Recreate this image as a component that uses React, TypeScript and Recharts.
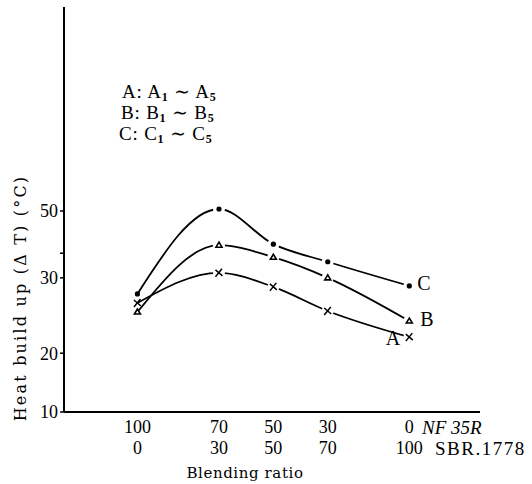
import React from 'react';
import { LineChart, Line, XAxis, YAxis, Customized } from 'recharts';

// blending ratio NF35R / SBR.1778
const nfRatio = [100, 70, 50, 30, 0];
const sbrRatio = [0, 30, 50, 70, 100];

// heat build up, in axis units (the printed scale is uneven)
const seriesA = [31.7, 37.7, 34.9, 30.1, 24.9];
const seriesB = [29.9, 43.2, 40.8, 36.7, 28.1];
const seriesC = [33.5, 50.4, 43.4, 39.9, 35.1];

const yTickValues = [10, 21.7, 36.7, 41.6, 50];
const yTickLabels = ['10', '20', '30', '', '50'];

const data = nfRatio.map((nf, i) => ({
  nf,
  sbr: sbrRatio[i],
  A: seriesA[i],
  B: seriesB[i],
  C: seriesC[i],
}));

const SERIF = '"Liberation Serif", "DejaVu Serif", serif';
const WIDE = '"DejaVu Serif", serif';

const XTick = (props: any) => {
  const { x, y, payload } = props;
  const i = nfRatio.indexOf(payload.value);
  return (
    <g>
      <text x={x} y={y + 13} textAnchor="middle" fontFamily={SERIF} fontSize={18} fill="#000">
        {nfRatio[i]}
      </text>
      <text x={x} y={y + 34} textAnchor="middle" fontFamily={SERIF} fontSize={18} fill="#000">
        {sbrRatio[i]}
      </text>
    </g>
  );
};

const makeDot = (kind: 'x' | 'tri' | 'dot', name: string, dx: number, dy: number, anchor: string) => (props: any) => {
  const { cx, cy, index } = props;
  const last = index === nfRatio.length - 1;
  let mark;
  if (kind === 'dot') {
    mark = <circle cx={cx} cy={cy} r={2.6} fill="#000" />;
  } else if (kind === 'tri') {
    mark = (
      <polygon
        points={`${cx},${cy - 3} ${cx - 3},${cy + 2} ${cx + 3},${cy + 2}`}
        fill="#fff"
        stroke="#000"
        strokeWidth={1.6}
      />
    );
  } else {
    mark = (
      <path
        d={`M${cx - 3.5},${cy + 4} L${cx + 3},${cy - 4} M${cx - 3.5},${cy - 3} L${cx + 3.5},${cy + 3}`}
        stroke="#000"
        strokeWidth={1.5}
        fill="none"
      />
    );
  }
  return (
    <g key={`${name}-${index}`}>
      {index > 0 && <circle cx={cx} cy={cy} r={6} fill="#fff" />}
      {mark}
      {last && (
        <text x={cx + dx} y={cy + dy} textAnchor={anchor} fontFamily={SERIF} fontSize={20} fill="#000">
          {name}
        </text>
      )}
    </g>
  );
};

const LegendLine = ({ x, y, k }: { x: number; y: number; k: string }) => (
  <text x={x} y={y} fontFamily={SERIF} fontSize={19} letterSpacing={0.8}>
    {k}: {k}
    <tspan fontSize={12} dy={3} fontWeight="bold">1</tspan>
    <tspan dy={-3}> ∼ {k}</tspan>
    <tspan fontSize={12} dy={3} fontWeight="bold">5</tspan>
  </text>
);

const Annotations = () => (
  <g fill="#000">
    <LegendLine x={122} y={98} k="A" />
    <LegendLine x={121} y={119} k="B" />
    <LegendLine x={119} y={140} k="C" />
    <text x={422} y={434} fontFamily={SERIF} fontSize={19} fontStyle="italic">
      NF 35R
    </text>
    <text x={435} y={455} fontFamily={SERIF} fontSize={19} letterSpacing={1.5}>
      SBR.1778
    </text>
    <text x={245} y={478} textAnchor="middle" fontFamily={WIDE} fontSize={15} letterSpacing={0.6}>
      Blending ratio
    </text>
    <text
      x={20}
      y={298}
      textAnchor="middle"
      dominantBaseline="central"
      transform="rotate(-90, 20, 298)"
      fontFamily={WIDE}
      fontSize={16}
      letterSpacing={2.2}
    >
      Heat build up (Δ T) (°C)
    </text>
  </g>
);

export default function App() {
  return (
    <div style={{ position: 'absolute', left: 0, top: 0, background: '#fff' }}>
      <LineChart width={532} height={484} data={data} margin={{ top: 7, right: 52, bottom: 12, left: 0 }}>
        <XAxis
          dataKey="nf"
          type="number"
          domain={[-26, 127]}
          reversed
          ticks={nfRatio}
          interval={0}
          tick={<XTick />}
          tickLine={false}
          axisLine={{ stroke: '#000', strokeWidth: 2 }}
          height={60}
        />
        <YAxis
          type="number"
          domain={[10, 90.6]}
          ticks={yTickValues}
          interval={0}
          width={64}
          tickSize={4}
          tickMargin={2}
          tickFormatter={(v: number) => yTickLabels[yTickValues.indexOf(v)]}
          tick={{ fill: '#000', fontFamily: SERIF, fontSize: 18 }}
          tickLine={{ stroke: '#000', strokeWidth: 1.5 }}
          axisLine={{ stroke: '#000', strokeWidth: 2 }}
        />
        <Line
          dataKey="A"
          type="monotone"
          stroke="#000"
          strokeWidth={1.8}
          dot={makeDot('x', 'A', -9, 8, 'end')}
          isAnimationActive={false}
        />
        <Line
          dataKey="B"
          type="monotone"
          stroke="#000"
          strokeWidth={1.8}
          dot={makeDot('tri', 'B', 11, 5, 'start')}
          isAnimationActive={false}
        />
        <Line
          dataKey="C"
          type="monotone"
          stroke="#000"
          strokeWidth={1.8}
          dot={makeDot('dot', 'C', 8, 4, 'start')}
          isAnimationActive={false}
        />
        <Customized component={Annotations} />
      </LineChart>
    </div>
  );
}
